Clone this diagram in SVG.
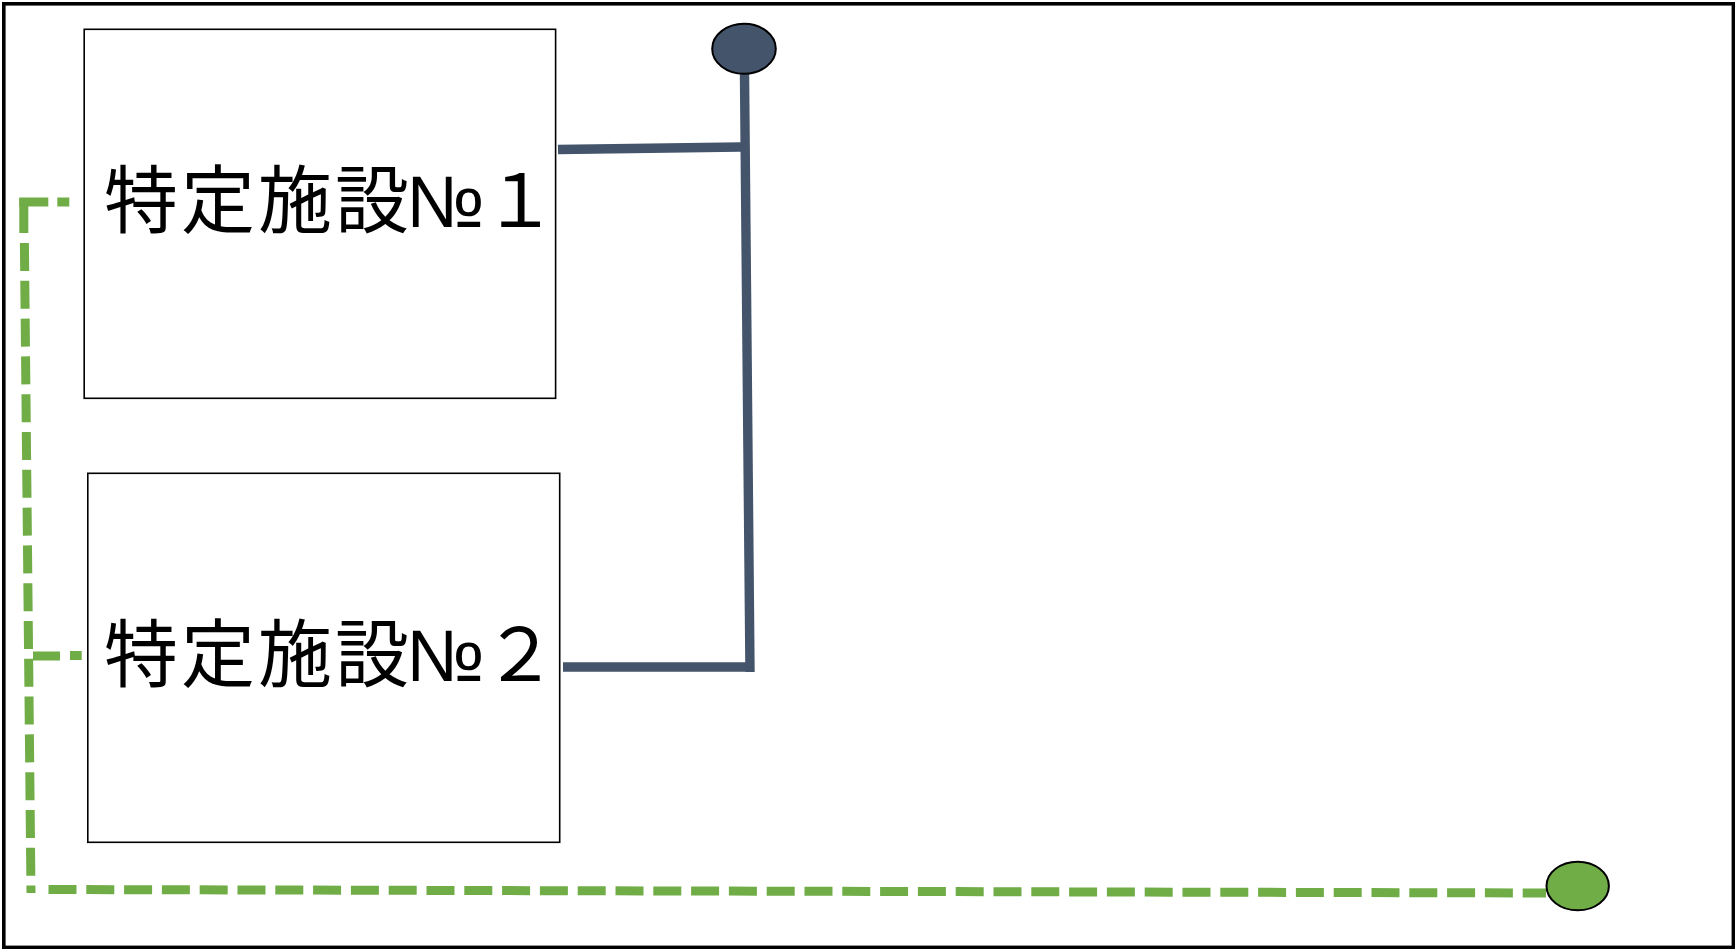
<svg xmlns="http://www.w3.org/2000/svg" width="1735" height="949" viewBox="0 0 1735 949">
<style>
.frame{fill:#fff;stroke:#000;stroke-width:3.6}
.box{fill:#fff;stroke:#000;stroke-width:1.6}
.lbl{font-family:"Noto Sans CJK JP","Noto Sans",sans-serif;font-size:74px;fill:#000}
.num{font-family:"Liberation Sans","DejaVu Sans",sans-serif;font-size:73px}
.dark{fill:none;stroke:#44546A;stroke-width:9.4;stroke-linecap:butt}
.green{fill:none;stroke:#70AD47;stroke-width:9;stroke-linecap:butt}
.gdash{stroke-dasharray:28 9.8}
.term{stroke:#000;stroke-width:2}
</style>
<rect class="frame" x="3.8" y="3.8" width="1729.6" height="943.6"/>
<g id="connectors">
  <path class="dark" d="M558,149.5 L741,147"/>
  <path class="dark" d="M744.5,74 L750,672"/>
  <path class="dark" d="M563,667 L746,667"/>
  <path class="green" d="M69.3,202 H57.3"/>
  <path class="green" d="M48.3,202 H19.3"/>
  <path class="green" d="M23.8,198 V233"/>
  <path class="green gdash" d="M24.4,243 L31,893"/>
  <path class="green" d="M81.7,655.5 H70"/>
  <path class="green" d="M60,656 H33"/>
  <path class="green gdash" d="M48.5,889.5 L1546,893"/>
</g>
<g id="box1">
  <rect class="box" x="84.2" y="29.3" width="471.4" height="369"/>
  <text class="lbl" y="227"><tspan x="104 181 258 335">特定施設</tspan><tspan class="num" x="406">№</tspan><tspan x="483">１</tspan></text>
</g>
<g id="box2">
  <rect class="box" x="87.8" y="473.3" width="471.9" height="369"/>
  <text class="lbl" y="681"><tspan x="104 181 258 335">特定施設</tspan><tspan class="num" x="406">№</tspan><tspan x="483">２</tspan></text>
</g>
<g id="terminal-top">
  <ellipse class="term" cx="744" cy="48.8" rx="31.8" ry="25" fill="#44546A"/>
</g>
<g id="terminal-bottom">
  <ellipse class="term" cx="1577.7" cy="886" rx="31.2" ry="24.3" fill="#70AD47"/>
</g>
</svg>
